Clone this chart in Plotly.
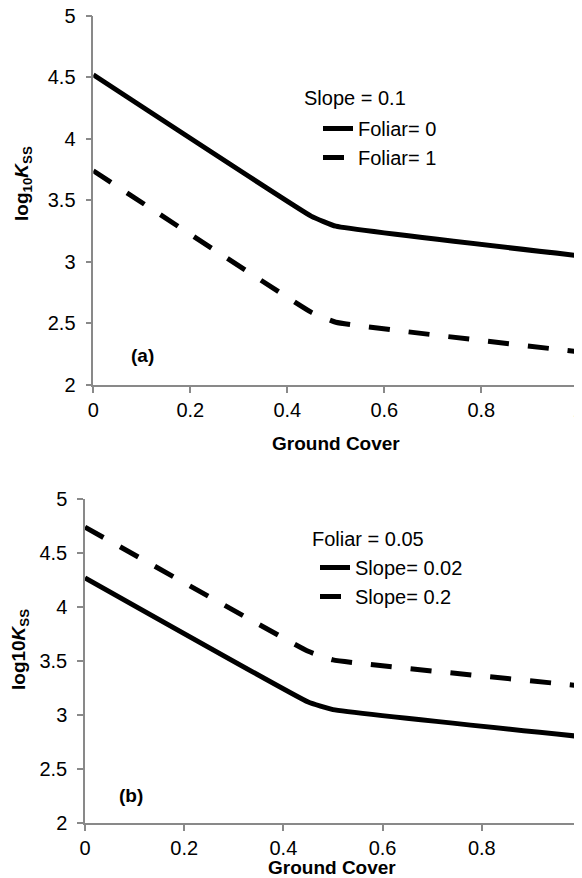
import plotly.graph_objects as go

# ---- data ----
ground_cover = [0, 0.45, 0.5, 1]
# panel (a): Slope = 0.1
foliar0 = [4.52, 3.37, 3.29, 3.05]
foliar1 = [3.74, 2.59, 2.51, 2.27]
# panel (b): Foliar = 0.05
slope002 = [4.27, 3.12, 3.05, 2.80]
slope02 = [4.74, 3.59, 3.51, 3.27]

x_ticks = [0, 0.2, 0.4, 0.6, 0.8, 1]
x_ticklabels = ["0", "0.2", "0.4", "0.6", "0.8", "1"]
y_ticks = [2, 2.5, 3, 3.5, 4, 4.5, 5]
y_ticklabels = ["2", "2.5", "3", "3.5", "4", "4.5", "5"]

W, H = 582, 878
OFF = 8  # page body margin
def fx(p): return (p - OFF) / W
def fy(p): return 1 - (p - OFF) / H

FONT = "Liberation Sans, Arial, sans-serif"
AX = "#898989"
LW = 5
DASH = "21px,19px"
LINE_SHAPE = dict(shape="spline", smoothing=0.3)

fig = go.Figure()
fig.add_trace(go.Scatter(x=ground_cover, y=foliar0, mode="lines", name="Foliar= 0",
                         line=dict(color="black", width=LW, **LINE_SHAPE),
                         xaxis="x", yaxis="y", legend="legend"))
fig.add_trace(go.Scatter(x=ground_cover, y=foliar1, mode="lines", name="Foliar= 1",
                         line=dict(color="black", width=LW, dash=DASH, **LINE_SHAPE),
                         xaxis="x", yaxis="y", legend="legend"))
fig.add_trace(go.Scatter(x=ground_cover, y=slope002, mode="lines", name="Slope= 0.02",
                         line=dict(color="black", width=LW, **LINE_SHAPE),
                         xaxis="x2", yaxis="y2", legend="legend2"))
fig.add_trace(go.Scatter(x=ground_cover, y=slope02, mode="lines", name="Slope= 0.2",
                         line=dict(color="black", width=LW, dash=DASH, **LINE_SHAPE),
                         xaxis="x2", yaxis="y2", legend="legend2"))

axis_common = dict(showgrid=False, zeroline=False, showline=True, linecolor=AX, linewidth=1.5,
                   ticks="outside", ticklen=6, tickcolor=AX, tickwidth=1.5, automargin=False,
                   ticklabeloverflow="allow",
                   tickfont=dict(family=FONT, size=20, color="black"))
yextra = dict(ticklabelstandoff=6)

fig.update_layout(
    width=W, height=H,
    margin=dict(l=0, r=0, t=0, b=0, autoexpand=False),
    paper_bgcolor="white", plot_bgcolor="white",
    font=dict(family=FONT, color="black"),
    xaxis=dict(domain=[fx(93.3), fx(578.3)], range=[0, 1], anchor="y",
               tickvals=x_ticks, ticktext=x_ticklabels, **axis_common),
    yaxis=dict(domain=[fy(385), fy(15.7)], range=[2, 5], anchor="x",
               tickvals=y_ticks, ticktext=y_ticklabels, **axis_common, **yextra),
    xaxis2=dict(domain=[fx(85), fx(581)], range=[0, 1], anchor="y2",
                tickvals=x_ticks, ticktext=x_ticklabels, **axis_common),
    yaxis2=dict(domain=[fy(823), fy(499)], range=[2, 5], anchor="x2",
                tickvals=y_ticks, ticktext=y_ticklabels, **axis_common, **yextra),
    legend=dict(x=fx(318), y=fy(109), xanchor="left", yanchor="top",
                bgcolor="rgba(0,0,0,0)", font=dict(family=FONT, size=20)),
    legend2=dict(x=fx(315), y=fy(548), xanchor="left", yanchor="top",
                 bgcolor="rgba(0,0,0,0)", font=dict(family=FONT, size=20)),
    showlegend=True,
)

ann = [
    dict(text="<b>Ground Cover</b>", x=fx(336), y=fy(443)),
    dict(text="<b>Ground Cover</b>", x=fx(332), y=fy(867)),
    dict(text="<b>log<sub>10</sub><i>K</i><sub>SS</sub></b>", x=fx(23), y=fy(184), textangle=-90),
    dict(text="<b>log10<i>K</i><sub>SS</sub></b>", x=fx(20), y=fy(650), textangle=-90),
    dict(text="<b>(a)</b>", x=fx(142), y=fy(355)),
    dict(text="<b>(b)</b>", x=fx(131), y=fy(795)),
]
for a in ann:
    fig.add_annotation(xref="paper", yref="paper", showarrow=False,
                       xanchor="center", yanchor="middle",
                       font=dict(family=FONT, size=19, color="black"), **a)

# legend headings
for txt, cx, cy in [("Slope = 0.1", 355, 98), ("Foliar = 0.05", 368, 539)]:
    fig.add_annotation(text=txt, xref="paper", yref="paper", x=fx(cx), y=fy(cy),
                       showarrow=False, xanchor="center", yanchor="middle",
                       font=dict(family=FONT, size=20, color="black"))

fig.write_html("out.html")
